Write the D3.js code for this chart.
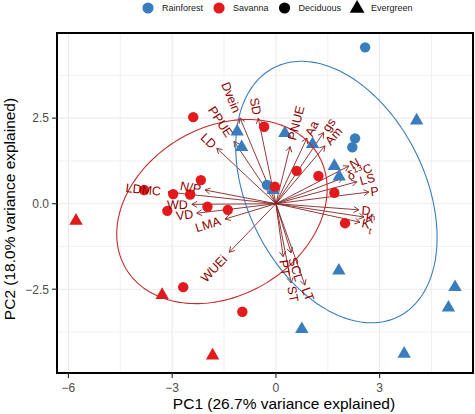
<!DOCTYPE html>
<html><head><meta charset="utf-8">
<script src="https://cdn.jsdelivr.net/npm/d3@7"></script>
<style>
body{margin:0;background:#fff}
svg{display:block}
text{font-family:"Liberation Sans",Arial,Helvetica,sans-serif}
</style>
</head><body>
<svg id="c" width="475" height="414"></svg>
<script>
// ---------------- data ----------------
const xTicks = [-6, -3, 0, 3];
const yTicks = [-2.5, 0, 2.5];
const xTickLabels = ["\u22126", "\u22123", "0", "3"];
const yTickLabels = ["\u22122.5", "0.0", "2.5"];
const xTitle = "PC1 (26.7% variance explained)";
const yTitle = "PC2 (18.0% variance explained)";

const forestTypes = ["Rainforest", "Savanna"];
const leafHabits = ["Deciduous", "Evergreen"];

// Rainforest species scores
const rfPC1   = [2.58, 2.29, 2.21, -0.26, 4.07, -1.12, -0.99, 0.26, 1.06, 1.69, 1.83, 1.82, 5.18, 4.99, 0.75, 3.71, -0.08];
const rfPC2   = [4.57, 1.91, 1.65, 0.55, 2.43, 2.11, 1.65, 2.06, 1.74, 1.10, 0.79, -1.96, -2.44, -3.04, -3.67, -4.39, 0.40];
const rfHabit = ["Deciduous","Deciduous","Deciduous","Deciduous","Evergreen","Evergreen","Evergreen","Evergreen","Evergreen","Evergreen","Evergreen","Evergreen","Evergreen","Evergreen","Evergreen","Evergreen","Evergreen"];

// Savanna species scores
const svPC1   = [-2.39, -3.81, -2.17, -2.97, -2.48, -3.14, -1.98, -1.39, -2.68, -0.97, -0.34, 0.60, 1.23, 1.69, 2.00, -0.03, -5.78, -3.29, -1.83];
const svPC2   = [2.53, 0.40, 0.69, 0.28, 0.27, -0.21, -0.09, -0.18, -2.44, -3.16, 2.25, 0.96, 0.81, 0.32, -0.57, 0.50, -0.50, -2.67, -4.44];
const svHabit = ["Deciduous","Deciduous","Deciduous","Deciduous","Deciduous","Deciduous","Deciduous","Deciduous","Deciduous","Deciduous","Deciduous","Deciduous","Deciduous","Deciduous","Deciduous","Deciduous","Evergreen","Evergreen","Evergreen"];

// group ellipses: centre, semi-axes, rotation (degrees) in PC units
const ellGroup = ["Rainforest", "Savanna"];
const ellCx    = [1.75, -1.56];
const ellCy    = [0.34, -0.23];
const ellA     = [4.06, 3.24];
const ellB     = [2.57, 2.45];
const ellAngle = [-64.2, 31.7];

// trait loadings
const varNames = ["SD","Dvein","PPUE","LD","PNUE","Aa","gs","Am","N","d13C","LS","P","Dh","K","Kt","PT","SCL","ST","LT","LDMC","N/P","WD","VD","LMA","WUEi"];
const varPC1 = [-0.51, -1.04, -1.21, -1.71, 0.41, 0.90, 1.38, 1.42, 2.11, 1.94, 2.34, 2.69, 2.40, 2.55, 2.43, 0.21, 0.44, 0.44, 0.84, -3.12, -2.05, -2.43, -2.29, -1.47, -1.35];
const varPC2 = [2.50, 2.51, 1.82, 1.62, 1.67, 1.92, 2.08, 1.69, 1.10, 0.75, 0.64, 0.34, -0.18, -0.39, -0.54, -1.55, -1.44, -2.32, -2.38, 0.34, 0.40, -0.02, -0.28, -0.45, -1.42];

// ---------------- styling ----------------
const colors = {Rainforest: "#3A7DBE", Savanna: "#E31A1C"};
const ellColors = {Rainforest: "#3A7DBE", Savanna: "#C62A2A"};
const arrowColor = "#832424";
const labelColor = "#8B0000";

// ---------------- layout ----------------
const svg = d3.select("#c");
const P = {l: 57, r: 473, t: 33, b: 373};
const x = d3.scaleLinear().domain([-6.33, 5.70]).range([P.l, P.r]);
const y = d3.scaleLinear().domain([-4.95, 4.99]).range([P.b, P.t]);

svg.append("rect").attr("width", 475).attr("height", 414).attr("fill", "#fff");

svg.append("defs").append("clipPath").attr("id", "clip")
  .append("rect").attr("x", P.l).attr("y", P.t).attr("width", P.r - P.l).attr("height", P.b - P.t);

// grid (major ticks + midpoints)
function withMinor(t) {
  const step = t[1] - t[0];
  const out = [];
  for (let v = t[0] - step; v <= t[t.length - 1] + step + 1e-9; v += step / 2) out.push(+v.toFixed(4));
  return out;
}
const grid = svg.append("g").attr("clip-path", "url(#clip)");
withMinor(xTicks).forEach(v => {
  const major = Math.abs((v / (xTicks[1]-xTicks[0])) % 1) < 1e-6;
  grid.append("line").attr("x1", x(v)).attr("x2", x(v)).attr("y1", P.t).attr("y2", P.b)
    .attr("stroke", "#EBEBEB").attr("stroke-width", major ? 1.1 : 0.7);
});
withMinor(yTicks).forEach(v => {
  const major = Math.abs((v / (yTicks[1]-yTicks[0])) % 1) < 1e-6;
  grid.append("line").attr("y1", y(v)).attr("y2", y(v)).attr("x1", P.l).attr("x2", P.r)
    .attr("stroke", "#EBEBEB").attr("stroke-width", major ? 1.1 : 0.7);
});

const plot = svg.append("g").attr("clip-path", "url(#clip)");

// arrows
const ox = x(0), oy = y(0);
const arrows = plot.append("g");
varNames.forEach((n, i) => {
  const tx = x(varPC1[i]), ty = y(varPC2[i]);
  arrows.append("line").attr("x1", ox).attr("y1", oy).attr("x2", tx).attr("y2", ty)
    .attr("stroke", arrowColor).attr("stroke-width", 0.9);
  const a = Math.atan2(ty - oy, tx - ox);
  const L = 6, s = Math.PI / 6;
  const p1 = [tx - L * Math.cos(a - s), ty - L * Math.sin(a - s)];
  const p2 = [tx - L * Math.cos(a + s), ty - L * Math.sin(a + s)];
  arrows.append("path").attr("d", `M${p1[0]},${p1[1]}L${tx},${ty}L${p2[0]},${p2[1]}`)
    .attr("fill", "none").attr("stroke", arrowColor).attr("stroke-width", 0.9);
});

// points
const pts = [];
rfPC1.forEach((v, i) => pts.push({pc1: v, pc2: rfPC2[i], grp: "Rainforest", habit: rfHabit[i]}));
svPC1.forEach((v, i) => pts.push({pc1: v, pc2: svPC2[i], grp: "Savanna", habit: svHabit[i]}));
const tri = d3.symbol(d3.symbolTriangle, 78);
const pg = plot.append("g");
pts.forEach(d => {
  if (d.habit === "Deciduous") {
    pg.append("circle").attr("cx", x(d.pc1)).attr("cy", y(d.pc2)).attr("r", 5.2).attr("fill", colors[d.grp]);
  } else {
    pg.append("path").attr("d", tri()).attr("transform", `translate(${x(d.pc1)},${y(d.pc2)})`).attr("fill", colors[d.grp]);
  }
});

// ellipses
const line = d3.line().x(p => x(p[0])).y(p => y(p[1]));
ellGroup.forEach((g, i) => {
  const th = ellAngle[i] * Math.PI / 180, c = Math.cos(th), s = Math.sin(th);
  const ptsE = d3.range(0, 201).map(k => {
    const t = k / 200 * 2 * Math.PI;
    const u = ellA[i] * Math.cos(t), v = ellB[i] * Math.sin(t);
    return [ellCx[i] + u * c - v * s, ellCy[i] + u * s + v * c];
  });
  plot.append("path").attr("d", line(ptsE)).attr("fill", "none")
    .attr("stroke", ellColors[g]).attr("stroke-width", 1.1);
});

// labels
const labG = plot.append("g");
varNames.forEach((n, i) => {
  const tx = x(varPC1[i]), ty = y(varPC2[i]);
  const dx = tx - ox, dyUp = oy - ty;
  const ang = Math.atan(dyUp / dx) * 180 / Math.PI;
  const t = labG.append("text").attr("transform", `translate(${tx},${ty}) rotate(${-ang})`)
    .attr("fill", labelColor).attr("font-size", 12.5).attr("dy", "0.36em");
  if (n === "d13C") {
    t.append("tspan").text("\u03b4");
    t.append("tspan").text("13").attr("font-size", 8.5).attr("baseline-shift", "super");
    t.append("tspan").text("C");
  } else if (n === "Dh" || n === "Kt") {
    t.append("tspan").text(n[0]);
    t.append("tspan").text(n.slice(1)).attr("font-size", 9).attr("baseline-shift", "sub");
  } else {
    t.text(n);
  }
  const w = t.node().getComputedTextLength();
  if (dx >= 0) t.attr("text-anchor", "start").attr("x", 0.2 * w);
  else t.attr("text-anchor", "end").attr("x", -0.2 * w);
});

// panel border
svg.append("rect").attr("x", P.l).attr("y", P.t).attr("width", P.r - P.l).attr("height", P.b - P.t)
  .attr("fill", "none").attr("stroke", "#000").attr("stroke-width", 2);

// axes ticks
const ax = svg.append("g");
xTicks.forEach((v, i) => {
  ax.append("line").attr("x1", x(v)).attr("x2", x(v)).attr("y1", P.b).attr("y2", P.b + 5).attr("stroke", "#333").attr("stroke-width", 1.2);
  ax.append("text").attr("x", x(v)).attr("y", 392).attr("text-anchor", "middle")
    .attr("font-size", 12).attr("fill", "#4D4D4D").text(xTickLabels[i]);
});
yTicks.forEach((v, i) => {
  ax.append("line").attr("x1", P.l - 5).attr("x2", P.l).attr("y1", y(v)).attr("y2", y(v)).attr("stroke", "#333").attr("stroke-width", 1.2);
  ax.append("text").attr("x", P.l - 8).attr("y", y(v)).attr("dy", "0.36em").attr("text-anchor", "end")
    .attr("font-size", 12).attr("fill", "#4D4D4D").text(yTickLabels[i]);
});
svg.append("text").attr("x", 284).attr("y", 409).attr("text-anchor", "middle")
  .attr("font-size", 15.5).attr("fill", "#000").text(xTitle);
svg.append("text").attr("transform", `translate(15,${(P.t + P.b) / 2 + 6}) rotate(-90)`).attr("text-anchor", "middle")
  .attr("font-size", 15.5).attr("fill", "#000").text(yTitle);

// legend
const leg = svg.append("g");
const legItems = [
  {label: forestTypes[0], shape: "circle", color: colors.Rainforest},
  {label: forestTypes[1], shape: "circle", color: colors.Savanna},
  {label: leafHabits[0], shape: "circle", color: "#000"},
  {label: leafHabits[1], shape: "triangle", color: "#000"}
];
let cx = 148;
legItems.forEach(it => {
  if (it.shape === "circle") leg.append("circle").attr("cx", cx).attr("cy", 8).attr("r", 5.6).attr("fill", it.color);
  else leg.append("path").attr("d", d3.symbol(d3.symbolTriangle, 95)()).attr("transform", `translate(${cx},8.5)`).attr("fill", it.color);
  const t = leg.append("text").attr("x", cx + 14).attr("y", 8).attr("dy", "0.35em")
    .attr("font-size", 9).attr("fill", "#1a1a1a").text(it.label);
  cx += 14 + t.node().getComputedTextLength() + 16;
});
</script>
</body></html>
